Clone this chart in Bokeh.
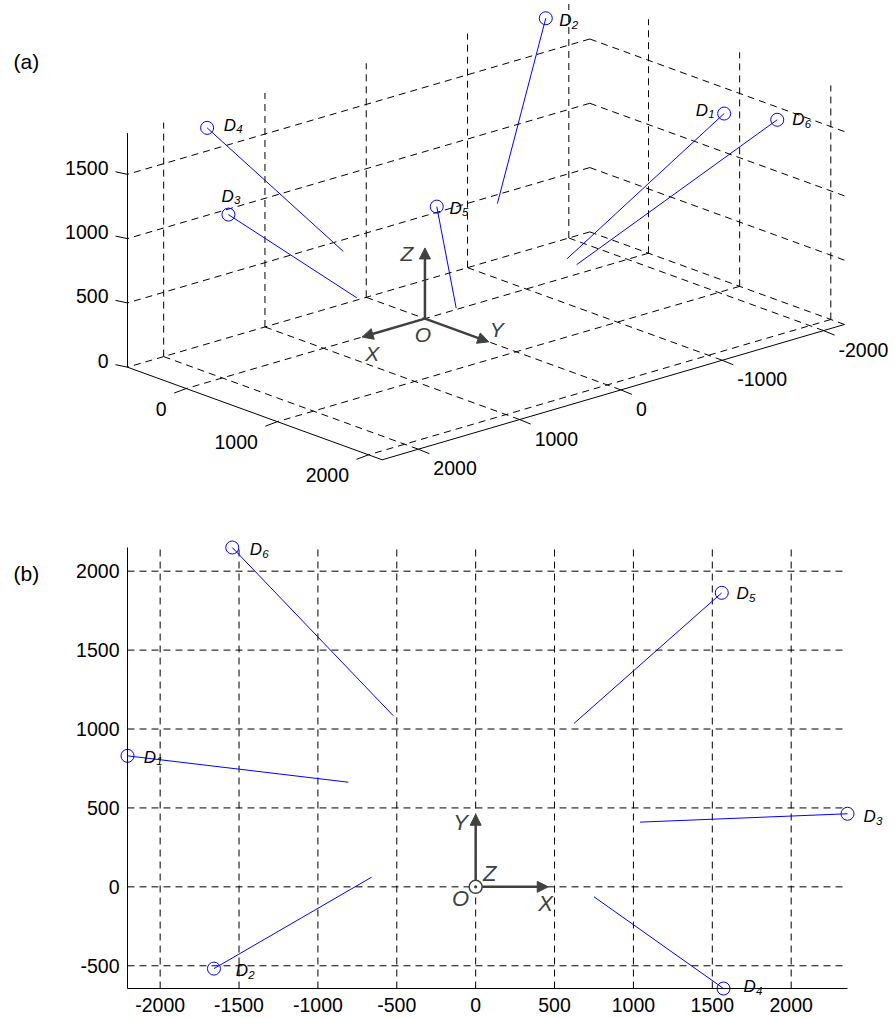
import numpy as np
from bokeh.plotting import figure
from bokeh.models import Range1d, FixedTicker, Arrow, NormalHead
from bokeh.layouts import column
from bokeh.core.properties import value
from bokeh.embed import file_html
from bokeh.resources import INLINE

# ---------------- data ----------------
names = ["1", "2", "3", "4", "5", "6"]
start_x = [-2207, -1659, 2357, 1571, 1560, -1543]
start_y = [830, -518, 463, -644, 1863, 2150]
start_z = [1300, 1820, 1472, 1680, 1711, 1745]
end_x = [-807, -660, 1042, 750, 623, -522]
end_y = [663, 61, 410, -63, 1035, 1084]
end_z = [451, 758, 508, 680, 492, 579]

ticks_x3 = [-2000, -1000, 0, 1000, 2000]
ticks_y3 = [0, 1000, 2000]
ticks_z3 = [0, 500, 1000, 1500]
labels_x3 = ["-2000", "-1000", "0", "1000", "2000"]
labels_y3 = ["0", "1000", "2000"]
labels_z3 = ["0", "500", "1000", "1500"]

ticks_xb = [-2000, -1500, -1000, -500, 0, 500, 1000, 1500, 2000]
labels_xb = ["-2000", "-1500", "-1000", "-500", "0", "500", "1000", "1500", "2000"]
ticks_yb = [-500, 0, 500, 1000, 1500, 2000]
labels_yb = ["-500", "0", "500", "1000", "1500", "2000"]

# ---------------- styles / layout ----------------
FONT = value("Liberation Sans")
BLUE = "#0000ff"
GRAY = "#404040"
DASH = "7 5"
TICK_FS = "19.5px"

xmin = min(start_x + end_x); xmax = max(start_x + end_x)
ymin = min(start_y + end_y); ymax = max(start_y + end_y)
zmin = 0; zmax = max(start_z + end_z)

# view transform for panel (a): page pixels (y down)
ORIGIN_PX = (127.0, 366.7)          # corner (xmax, ymin, zmin)
EX = (-0.10129, 0.02965)            # pixel change per unit X
EY = (0.09116, 0.03314)             # pixel change per unit Y
EZ = (0.0, -0.1286)                 # pixel change per unit Z


def proj(X, Y, Z):
    X = np.asarray(X, float); Y = np.asarray(Y, float); Z = np.asarray(Z, float)
    dx = X - xmax; dy = Y - ymin; dz = Z - zmin
    u = ORIGIN_PX[0] + EX[0] * dx + EY[0] * dy + EZ[0] * dz
    v = ORIGIN_PX[1] + EX[1] * dx + EY[1] * dy + EZ[1] * dz
    return u, v


W = 895
H1 = 500
H2 = 518

# ================= panel (a) =================
p1 = figure(width=W, height=H1, output_backend="svg", toolbar_location=None,
            x_range=Range1d(0, W), y_range=Range1d(H1, 0),
            x_axis_type=None, y_axis_type=None, min_border=0,
            outline_line_color=None)
p1.grid.visible = False

segs = []
for x in ticks_x3:
    segs.append(((x, ymin, zmin), (x, ymax, zmin)))
for y in ticks_y3:
    segs.append(((xmin, y, zmin), (xmax, y, zmin)))
for x in ticks_x3:
    segs.append(((x, ymin, zmin), (x, ymin, zmax)))
for z in ticks_z3:
    segs.append(((xmin, ymin, z), (xmax, ymin, z)))
for y in ticks_y3:
    segs.append(((xmin, y, zmin), (xmin, y, zmax)))
for z in ticks_z3:
    segs.append(((xmin, ymin, z), (xmin, ymax, z)))
a = np.array([s[0] for s in segs]); b = np.array([s[1] for s in segs])
u0, v0 = proj(a[:, 0], a[:, 1], a[:, 2])
u1, v1 = proj(b[:, 0], b[:, 1], b[:, 2])
p1.segment(u0, v0, u1, v1, line_color="black", line_width=1, line_dash=DASH)

# axis lines
ax_a = np.array([(xmax, ymin, zmin), (xmax, ymax, zmin), (xmax, ymin, zmin)])
ax_b = np.array([(xmax, ymax, zmin), (xmin, ymax, zmin), (xmax, ymin, zmax)])
u0, v0 = proj(ax_a[:, 0], ax_a[:, 1], ax_a[:, 2])
u1, v1 = proj(ax_b[:, 0], ax_b[:, 1], ax_b[:, 2])
p1.segment(u0, v0, u1, v1, line_color="black", line_width=1)

# ticks and tick labels
zu, zv = proj([xmax] * len(ticks_z3), [ymin] * len(ticks_z3), ticks_z3)
p1.segment(zu, zv, zu - 12, zv - 2.5, line_color="black", line_width=1)
p1.text(zu - 19, zv - 6.5, text=labels_z3, text_font=FONT, text_font_size=TICK_FS,
        text_align="right", text_baseline="middle", text_color="black")

yu, yv = proj([xmax] * len(ticks_y3), ticks_y3, [zmin] * len(ticks_y3))
p1.segment(yu, yv, yu - 12, yv + 4.5, line_color="black", line_width=1)
p1.text(yu - 19.5, yv + 20, text=labels_y3, text_font=FONT, text_font_size=TICK_FS,
        text_align="right", text_baseline="middle", text_color="black")

xu, xv = proj(ticks_x3, [ymax] * len(ticks_x3), [zmin] * len(ticks_x3))
p1.segment(xu, xv, xu + 11, xv + 4.5, line_color="black", line_width=1)
p1.text(xu + 15, xv + 19, text=labels_x3, text_font=FONT, text_font_size=TICK_FS,
        text_align="left", text_baseline="middle", text_color="black")

# data
su, sv = proj(start_x, start_y, start_z)
eu, ev = proj(end_x, end_y, end_z)
p1.segment(su, sv, eu, ev, line_color=BLUE, line_width=1)
p1.scatter(su, sv, marker="circle", size=13, fill_color=None, line_color=BLUE, line_width=1)

lab_dx_a = [-28.3, 13.4, -7.0, 16.7, 12.7, 15.0]
lab_dy_a = [-3.3, 2.3, -18.3, -2.8, 1.6, 0.0]
lx = su + np.array(lab_dx_a); ly = sv + np.array(lab_dy_a)
p1.text(lx, ly, text=["D"] * len(names), text_font=FONT, text_font_size="17px",
        text_font_style="italic", text_align="left", text_baseline="middle", text_color="black")
p1.text(lx + 12.5, ly + 4, text=names, text_font=FONT, text_font_size="11.5px",
        text_font_style="italic", text_align="left", text_baseline="middle", text_color="black")

# coordinate frame indicator (a)
AX_LEN = {"X": 620, "Y": 700, "Z": 550}
ou, ov = proj(0, 0, 0)
tips = {"X": proj(AX_LEN["X"], 0, 0), "Y": proj(0, AX_LEN["Y"], 0), "Z": proj(0, 0, AX_LEN["Z"])}
for k in ["X", "Y", "Z"]:
    tu, tv = tips[k]
    p1.add_layout(Arrow(end=NormalHead(size=11, fill_color=GRAY, line_color=GRAY, line_width=1),
                        x_start=float(ou), y_start=float(ov), x_end=float(tu), y_end=float(tv),
                        line_color=GRAY, line_width=2.5))
ind_off_a = {"X": (10, 16), "Y": (8, -12), "Z": (-18, 6)}
ind_u = [float(tips[k][0]) + ind_off_a[k][0] for k in ["X", "Y", "Z"]] + [float(ou) - 2]
ind_v = [float(tips[k][1]) + ind_off_a[k][1] for k in ["X", "Y", "Z"]] + [float(ov) + 16]
p1.text(ind_u, ind_v, text=["X", "Y", "Z", "O"], text_font=FONT, text_font_size="21px",
        text_font_style="italic", text_align="center", text_baseline="middle", text_color=GRAY)

p1.text([13], [61], text=["(a)"], text_font=FONT, text_font_size="21px",
        text_align="left", text_baseline="middle", text_color="black")

# ================= panel (b) =================
LEFT_PX, FW = 127, 720
TOP_PX, FH = 47, 441
sx = FW / (xmax - xmin)
sy = FH / (ymax - ymin)
xr = Range1d(xmin - LEFT_PX / sx, xmax + (W - LEFT_PX - FW) / sx)
yr = Range1d(ymin - (H2 - TOP_PX - FH) / sy, ymax + TOP_PX / sy)

p2 = figure(width=W, height=H2, output_backend="svg", toolbar_location=None,
            x_range=xr, y_range=yr, min_border=0, outline_line_color=None)
p2.grid.visible = False

# grid
p2.segment(ticks_xb, [ymin] * len(ticks_xb), ticks_xb, [ymax] * len(ticks_xb),
           line_color="black", line_width=1, line_dash=DASH)
p2.segment([xmin] * len(ticks_yb), ticks_yb, [xmax] * len(ticks_yb), ticks_yb,
           line_color="black", line_width=1, line_dash=DASH)

for ax, loc, bnds, ticks, labs, stand in [
        (p2.xaxis, ymin, (xmin, xmax), ticks_xb, labels_xb, 9),
        (p2.yaxis, xmin, (ymin, ymax), ticks_yb, labels_yb, 8)]:
    ax.fixed_location = loc
    ax.bounds = bnds
    ax.ticker = FixedTicker(ticks=ticks)
    ax.major_label_overrides = {float(t): l for t, l in zip(ticks, labs)}
    ax.major_label_text_font = "Liberation Sans"
    ax.major_label_text_font_size = TICK_FS
    ax.major_label_text_color = "black"
    ax.major_label_standoff = stand
    ax.major_tick_in = 0
    ax.major_tick_out = 0
    ax.minor_tick_line_color = None
    ax.axis_line_color = "black"
    ax.axis_line_width = 1

p2.segment(start_x, start_y, end_x, end_y, line_color=BLUE, line_width=1)
p2.scatter(start_x, start_y, marker="circle", size=13, fill_color=None, line_color=BLUE, line_width=1)

lab_dx_b = [16.3, 21.7, 16.0, 20.0, 14.7, 17.6]
lab_dy_b = [1.5, 2.3, 3.0, -2.0, 1.0, 2.3]
bx = np.array(start_x, float) + np.array(lab_dx_b) / sx
by = np.array(start_y, float) - np.array(lab_dy_b) / sy
p2.text(bx, by, text=["D"] * len(names), text_font=FONT, text_font_size="17px",
        text_font_style="italic", text_align="left", text_baseline="middle", text_color="black")
p2.text(bx + 12.5 / sx, by - 4 / sy, text=names, text_font=FONT, text_font_size="11.5px",
        text_font_style="italic", text_align="left", text_baseline="middle", text_color="black")

# coordinate frame indicator (b)
R_PX = 6.5
IND_LEN = 460
p2.add_layout(Arrow(end=NormalHead(size=11, fill_color=GRAY, line_color=GRAY, line_width=1),
                    x_start=0, y_start=R_PX / sy, x_end=0, y_end=IND_LEN,
                    line_color=GRAY, line_width=2.5))
p2.add_layout(Arrow(end=NormalHead(size=11, fill_color=GRAY, line_color=GRAY, line_width=1),
                    x_start=R_PX / sx, y_start=0, x_end=IND_LEN, y_end=0,
                    line_color=GRAY, line_width=2.5))
p2.scatter([0], [0], marker="circle_dot", size=13, fill_color="white", line_color=GRAY, line_width=1.5)
ind_off_b = {"Y": (-15, -64), "Z": (14, -13), "O": (-15, 12), "X": (70, 17)}
kb = ["Y", "Z", "O", "X"]
p2.text([ind_off_b[k][0] / sx for k in kb], [-ind_off_b[k][1] / sy for k in kb], text=kb,
        text_font=FONT, text_font_size="22px", text_font_style="italic",
        text_align="center", text_baseline="middle", text_color=GRAY)

p2.text([xr.start + 13 / sx], [yr.end - 73 / sy], text=["(b)"], text_font=FONT, text_font_size="21px",
        text_align="left", text_baseline="middle", text_color="black")

layout = column(p1, p2)
open("out.html", "w").write(file_html(layout, INLINE))
